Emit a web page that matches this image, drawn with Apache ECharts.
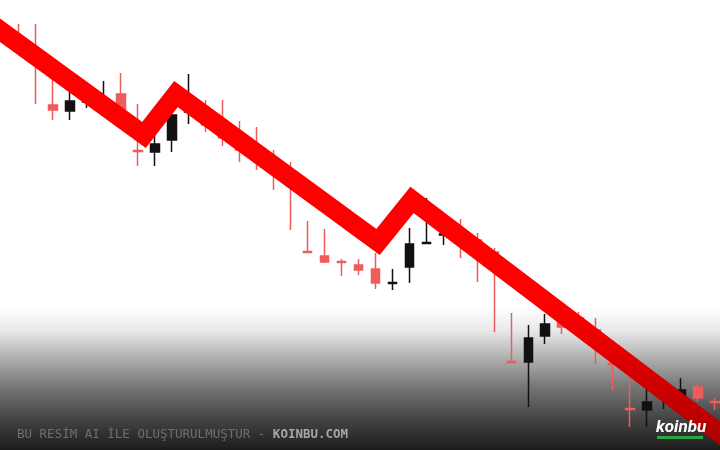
<!DOCTYPE html>
<html>
<head>
<meta charset="utf-8">
<script src="https://cdn.jsdelivr.net/npm/echarts@6/dist/echarts.min.js"></script>
<style>
  html, body { margin: 0; padding: 0; background: #ffffff; }
  #chart { width: 720px; height: 450px; }
</style>
</head>
<body>
<div id="chart"></div>
<script>
// ---- data ----
const categories = ['1','2','3','4','5','6','7','8','9','10','11','12','13','14','15','16','17','18','19','20','21',
  '22','23','24','25','26','27','28','29','30','31','32','33','34','35','36','37','38','39','40','41','42'];

// [open, close, low, high]
const candles = [
  [412, 404, 398, 426],
  [400, 392, 346, 426],
  [345, 340, 330, 372],
  [339, 349, 330, 360],
  [348, 353, 342, 368],
  [340, 350, 334, 369],
  [356, 336, 325, 377],
  [299.5, 298.5, 284, 346],
  [298, 306, 284, 320],
  [310, 335, 298, 346],
  [338, 350, 326, 376],
  [335, 325, 318, 350],
  [322, 312, 304, 350],
  [310, 300, 288, 329],
  [300, 290, 280, 323],
  [287, 277, 260, 300],
  [275, 265, 220, 288],
  [198.5, 197.5, 197.5, 229],
  [194, 188, 187, 221],
  [188.5, 187.5, 174, 191],
  [185, 180, 175, 191],
  [181, 167, 161, 197],
  [166.5, 167.5, 160, 181],
  [183, 206, 167, 222],
  [206.5, 207.5, 206, 252],
  [215, 216, 205, 224],
  [220, 210, 192, 231],
  [210, 200, 168, 217],
  [198, 190, 118, 202],
  [88.5, 87.5, 87.5, 137],
  [88, 112, 43, 125],
  [114, 126, 106, 136],
  [128, 123, 116, 130],
  [132, 124, 114, 138],
  [120, 110, 86, 132],
  [86.5, 85.5, 60, 90],
  [41.5, 40.5, 23, 84],
  [40, 48, 23, 69],
  [51.5, 52.5, 41, 58],
  [50, 60, 45, 72],
  [63, 52, 48, 67],
  [48.5, 47.5, 40, 52]
];

// zigzag trend line, x in candle-index units
const trendX = [-2.6, 7.36, 9.25, 21.15, 23.15, 42.5];
const trendY = [438, 315, 356, 208, 250, 1];

const watermarkText = 'BU RESİM AI İLE OLUŞTURULMUŞTUR - ';
const watermarkSite = 'KOINBU.COM';
const logoText = 'koinbu';

// ---- layout ----
const W = 720;
const gridLeft = 19, gridRight = 5;
const step = (W - gridLeft - gridRight) / (categories.length - 1);
const fullMin = -gridLeft / step;
const fullMax = (categories.length - 1) + gridRight / step;

// ---- chart ----
const chart = echarts.init(document.getElementById('chart'), null, { renderer: 'canvas' });
const trendData = trendX.map((x, i) => [x, trendY[i]]);

chart.setOption({
  animation: false,
  backgroundColor: '#ffffff',
  grid: [
    { left: gridLeft, right: gridRight, top: 0, bottom: 0, containLabel: false },
    { left: 0, right: 0, top: 0, bottom: 0, containLabel: false }
  ],
  xAxis: [
    { gridIndex: 0, type: 'category', data: categories, boundaryGap: false, show: false },
    { gridIndex: 1, type: 'value', min: fullMin, max: fullMax, show: false, splitLine: { show: false } }
  ],
  yAxis: [
    { gridIndex: 0, type: 'value', min: 0, max: 450, show: false, splitLine: { show: false } },
    { gridIndex: 1, type: 'value', min: 0, max: 450, show: false, splitLine: { show: false } }
  ],
  graphic: [
    {
      type: 'rect', z: -10, silent: true,
      shape: { x: 0, y: 308, width: 720, height: 142 },
      style: {
        fill: {
          type: 'linear', x: 0, y: 0, x2: 0, y2: 1,
          colorStops: [
            { offset: 0, color: '#ffffff' },
            { offset: 0.16, color: '#e8e8e8' },
            { offset: 0.31, color: '#bcbcbc' },
            { offset: 0.54, color: '#7a7a7a' },
            { offset: 0.77, color: '#464646' },
            { offset: 1, color: '#1c1c1c' }
          ]
        }
      }
    },
    {
      type: 'text', z: 100, silent: true,
      x: 17, y: 435,
      style: {
        text: '{a|' + watermarkText + '}{b|' + watermarkSite + '}',
        verticalAlign: 'middle',
        rich: {
          a: { fontFamily: 'DejaVu Sans Mono', fontSize: 12.5, fill: '#6e6e6e', fontWeight: 'normal' },
          b: { fontFamily: 'DejaVu Sans Mono', fontSize: 12.5, fill: '#a6a6a6', fontWeight: 'bold' }
        }
      }
    },
    {
      type: 'rect', z: 100, silent: true,
      shape: { x: 657, y: 436, width: 46, height: 3 },
      style: { fill: '#27a844' }
    },
    {
      type: 'text', z: 101, silent: true,
      x: 656, y: 436,
      style: {
        text: logoText,
        verticalAlign: 'bottom',
        fontFamily: 'Roboto', fontSize: 17, fontWeight: 'bold', fontStyle: 'italic',
        fill: '#ffffff'
      }
    }
  ],
  series: [
    {
      type: 'candlestick',
      xAxisIndex: 0, yAxisIndex: 0,
      data: candles,
      barWidth: 9,
      itemStyle: {
        color: '#111111', color0: '#ee5c5c',
        borderColor: '#111111', borderColor0: '#ee5c5c',
        borderWidth: 1.5
      },
      z: 2
    },
    {
      type: 'line',
      xAxisIndex: 1, yAxisIndex: 1,
      data: trendData,
      showSymbol: false,
      symbol: 'none',
      z: 5,
      lineStyle: {
        width: 19,
        join: 'miter',
        miterLimit: 10,
        cap: 'butt',
        color: {
          type: 'linear', x: 0, y: 0, x2: 0, y2: 450, global: true,
          colorStops: [
            { offset: 0, color: '#ff0000' },
            { offset: 0.68, color: '#ff0000' },
            { offset: 1, color: '#a80000' }
          ]
        }
      }
    }
  ]
});
</script>
</body>
</html>
